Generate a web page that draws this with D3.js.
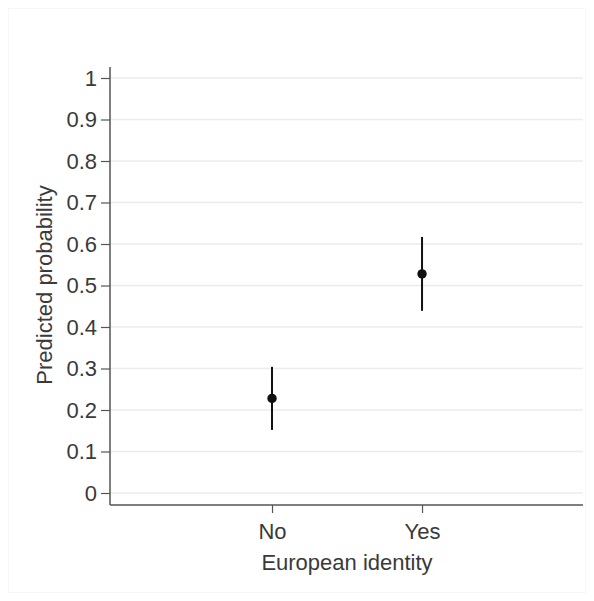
<!DOCTYPE html>
<html><head><meta charset="utf-8">
<script src="https://cdn.jsdelivr.net/npm/d3@7"></script>
<style>body{margin:0;background:#fff}</style>
</head><body>
<script>
const categories = ["No", "Yes"];
const estimates = [0.228, 0.528];
const ciLower = [0.152, 0.439];
const ciUpper = [0.304, 0.617];
const yTicks = [0, 0.1, 0.2, 0.3, 0.4, 0.5, 0.6, 0.7, 0.8, 0.9, 1];
const yTickLabels = ["0", "0.1", "0.2", "0.3", "0.4", "0.5", "0.6", "0.7", "0.8", "0.9", "1"];

(function () {
const W = 594, H = 601;
const svg = d3.select("body").append("svg").attr("width", W).attr("height", H);
svg.append("rect").attr("x", 8.5).attr("y", 8.5).attr("width", W - 17).attr("height", H - 17)
  .attr("fill", "#fff").attr("stroke", "#f7f7f7");

const pL = 110, pR = 583, pT = 67, pB = 505;
const y = d3.scaleLinear().domain([0, 1]).range([493, 78]);
const xIdx = d3.scaleLinear().domain([-1.08, 2.073]).range([pL, pR]);
const font = "Arial, 'Liberation Sans', sans-serif";
const fs = "22px";
const txt = "#3a3a3a";

// grid
svg.append("g").selectAll("line").data(yTicks).join("line")
  .attr("x1", pL).attr("x2", pR)
  .attr("y1", d => y(d)).attr("y2", d => y(d))
  .attr("stroke", "#ececec").attr("stroke-width", 1.5);

// y axis
const yAxis = d3.axisLeft(y).tickValues(yTicks).tickSize(9).tickPadding(4)
  .tickFormat((d, i) => yTickLabels[i]);
const gy = svg.append("g").attr("transform", `translate(${pL},0)`).call(yAxis);
gy.select(".domain").remove();
gy.append("line").attr("x1", 0).attr("x2", 0).attr("y1", pT).attr("y2", pB).attr("stroke", "#555").attr("stroke-width", 1.5);
gy.selectAll(".tick line").attr("stroke", "#555").attr("stroke-width", 1.2);
gy.selectAll(".tick text").attr("fill", txt).attr("dy", "0.34em").style("font-family", font).style("font-size", fs);

// x axis
const xBand = d3.scaleOrdinal().domain(categories).range(categories.map((c, i) => xIdx(i)));
const xAxis = d3.axisBottom(xBand).tickSize(8).tickPadding(10);
const gx = svg.append("g").attr("transform", `translate(0,${pB})`).call(xAxis);
gx.select(".domain").remove();
gx.append("line").attr("x1", pL).attr("x2", pR).attr("y1", 0).attr("y2", 0).attr("stroke", "#555").attr("stroke-width", 1.5);
gx.selectAll(".tick line").attr("stroke", "#555").attr("stroke-width", 1.2);
gx.selectAll(".tick text").attr("fill", txt).style("font-family", font).style("font-size", fs);

// labels
svg.append("text").attr("x", (pL + pR) / 2 + 0.5).attr("y", 570).attr("text-anchor", "middle")
  .attr("fill", txt).style("font-family", font).style("font-size", fs)
  .text("European identity");
svg.append("text").attr("transform", `translate(52,285) rotate(-90)`).attr("text-anchor", "middle")
  .attr("fill", txt).style("font-family", font).style("font-size", fs)
  .text("Predicted probability");

// CI and points
const g = svg.append("g");
g.selectAll("line.ci").data(categories).join("line").attr("class", "ci")
  .attr("x1", (d, i) => xIdx(i)).attr("x2", (d, i) => xIdx(i))
  .attr("y1", (d, i) => y(ciLower[i])).attr("y2", (d, i) => y(ciUpper[i]))
  .attr("stroke", "#111").attr("stroke-width", 2);
g.selectAll("circle").data(categories).join("circle")
  .attr("cx", (d, i) => xIdx(i)).attr("cy", (d, i) => y(estimates[i])).attr("r", 4.7)
  .attr("fill", "#111");
})();
</script>
</body></html>
